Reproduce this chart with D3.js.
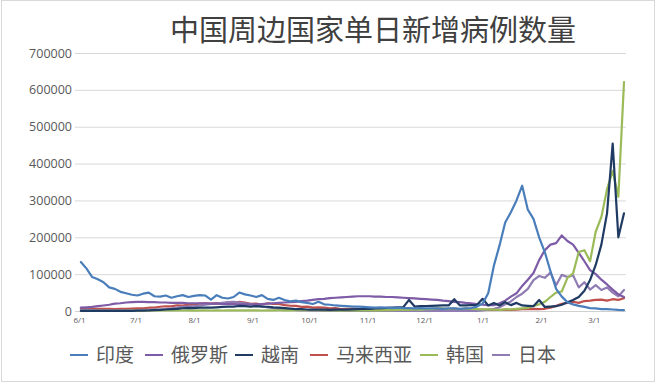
<!DOCTYPE html>
<html><head><meta charset="utf-8">
<script src="https://cdn.jsdelivr.net/npm/d3@7"></script>
<style>
html,body{margin:0;padding:0;background:#fff;}
svg{display:block;}
</style></head>
<body>
<svg id="chart" width="660" height="382"></svg>
<script>
// ---- data (sampled every 3 days from 2021-06-02 to 2022-03-17) ----
const startDate = new Date(2021, 5, 2);
const stepDays = 3;
const tickLabels = ["6/1","7/1","8/1","9/1","10/1","11/1","12/1","1/1","2/1","3/1"];
const tickDates = [[2021,5,1],[2021,6,1],[2021,7,1],[2021,8,1],[2021,9,1],[2021,10,1],[2021,11,1],[2022,0,1],[2022,1,1],[2022,2,1]];
const yTicks = [0,100000,200000,300000,400000,500000,600000,700000];
const seriesNames = ["印度","俄罗斯","越南","马来西亚","韩国","日本"];

const india = [133000,115000,92000,86000,78000,64000,60000,52000,48000,44000,
42000,47000,50000,40000,39000,42000,36000,40000,43000,38000,
41000,43000,42000,31000,43000,36000,34000,38000,50000,45000,
42000,38000,43000,33000,30000,36000,30000,26000,28000,24000,
22000,19000,25000,18000,17000,15000,14000,13000,12000,12000,
11000,10000,9000,10000,9000,8000,9000,8000,8000,7000,
8000,7000,7000,7000,6000,7000,7000,6000,7000,8000,
12000,20000,48000,123000,178000,240000,268000,300000,340000,275000,
250000,200000,160000,108000,60000,39000,24000,18000,14000,11000,
8000,7000,5000,5000,4000,3000,2500];

const russia = [9000,10000,11000,13000,15000,17000,20000,21000,23000,24000,
25000,25000,24000,24000,23000,23000,22000,22000,22000,21000,
21000,21000,21000,20000,20000,19000,19000,18000,18000,18000,
18000,18000,19000,20000,21000,22000,23000,24000,25000,27000,
28000,30000,32000,33000,35000,36000,37000,38000,39000,40000,
40000,40000,39000,39000,38000,38000,37000,36000,35000,34000,
33000,32000,31000,30000,28000,27000,25000,24000,22000,21000,
19000,17000,16000,16000,21000,28000,39000,48000,68000,85000,
103000,138000,165000,180000,184000,205000,190000,180000,158000,135000,
111000,100000,85000,72000,58000,45000,38000];

const vietnam = [200,300,300,400,300,300,300,400,500,600,
900,1200,1500,2300,3000,4000,5000,6000,7500,8500,
8000,9000,9500,9000,10000,11000,12000,11500,14000,13000,
12000,13000,12000,11500,10000,9000,8000,6500,5000,5000,
4000,3500,3500,3500,3000,3500,3500,4000,4500,5000,
5500,6000,7000,8000,8500,9500,10000,10500,30000,12000,
13000,13500,14000,14500,15000,15000,32000,15000,15500,16000,
16000,33000,15000,22000,15000,24000,16000,22000,15000,14000,
13000,30000,11000,12000,13000,17000,24000,30000,38000,55000,
84000,125000,180000,265000,454000,200000,265000];

const malaysia = [7500,7000,6000,6000,5500,5500,5300,5600,6000,6400,
6900,7000,8900,9100,11600,12900,12400,15500,14500,17400,
17800,19800,20900,20000,21400,19900,22900,21200,24600,22600,
19300,20400,17000,21000,19500,19200,15700,14300,14100,11300,
11900,9000,9900,9400,7300,7900,5400,6100,5800,5400,
5300,5200,6600,4900,6100,6000,6300,5800,4800,5400,
4300,5400,4300,4800,4500,3500,3800,3100,3300,2900,
3600,3400,2900,3400,2700,3700,3000,3900,5000,5200,
5500,5300,6000,9100,14000,19700,22000,25000,22000,27000,
28000,30000,31000,28000,32000,30000,35000];

const korea = [600,700,500,550,450,500,400,600,650,800,
800,700,1200,1300,1600,1500,1300,1600,1300,1700,
1200,1700,1700,1400,1900,1400,2100,1600,1800,1800,
2000,1700,1400,2000,1800,2000,1900,1800,2400,2700,
2500,2100,2000,1500,1300,1900,1000,1400,1400,1200,
2000,1600,2300,1800,2500,2400,3200,3100,2700,4000,
3300,5100,5100,7100,6900,5500,7400,5200,6900,5400,
5000,4400,4400,4000,3000,4500,4200,5800,7000,8500,
14000,18000,25000,38000,50000,53000,90000,102000,160000,165000,
135000,215000,255000,330000,380000,310000,621000];

const japan = [2500,2800,2500,2000,1800,1800,1500,1600,1800,2000,
2500,3000,3200,3500,4000,5000,6500,9000,11000,12000,
13000,15000,17000,19000,20000,22000,24000,25000,23000,21000,
19000,16000,13000,10000,8000,6000,4500,3500,2500,1800,
1400,1000,700,500,400,300,300,250,200,200,
200,150,150,150,150,200,150,150,150,150,
150,150,150,200,200,200,250,300,300,400,
500,1500,3500,6000,10000,18000,26000,38000,47000,60000,
84000,95000,90000,104000,70000,98000,92000,97000,64000,78000,
58000,70000,57000,64000,50000,40000,57000];

const seriesValues = [india, russia, vietnam, malaysia, korea, japan];
const seriesColors = ["#4a7ebb","#7d5ba6","#1f3a63","#c0504d","#9bbb59","#8f7cb3"];

// ---- chart ----
const svg = d3.select("#chart");
const W = 660, H = 382;
const dates = india.map((_, i) => d3.timeDay.offset(startDate, i * stepDays));

const x = d3.scaleTime()
  .domain([new Date(2021, 5, 1), new Date(2022, 2, 17)])
  .range([79, 624]);
const y = d3.scaleLinear().domain([0, 700000]).range([311, 53]);

// chart border
svg.append("rect").attr("x", 1.5).attr("y", 0.5).attr("width", W - 7).attr("height", H - 1)
  .attr("fill", "#fff").attr("stroke", "#d9d9d9");

// title
svg.append("text").attr("x", 373).attr("y", 41).attr("text-anchor", "middle")
  .attr("font-family", "'Noto Sans CJK SC', sans-serif").attr("font-size", 29)
  .attr("fill", "#404040").text("中国周边国家单日新增病例数量");

// gridlines
svg.append("g").selectAll("line").data(yTicks.filter(d => d > 0)).join("line")
  .attr("x1", 75).attr("x2", 626)
  .attr("y1", d => y(d) + 0.5).attr("y2", d => y(d) + 0.5)
  .attr("stroke", "#d9d9d9").attr("stroke-width", 1);

// y axis labels
const yAxis = d3.axisLeft(y).tickValues(yTicks).tickSize(0).tickPadding(0).tickFormat(d3.format("d"));
const gy = svg.append("g").attr("transform", "translate(72,0)").call(yAxis);
gy.select(".domain").remove();
gy.selectAll("text").attr("font-family", "'Open Sans', sans-serif").attr("font-size", 12.5)
  .attr("fill", "#595959");

// x axis
const xAxis = d3.axisBottom(x)
  .tickValues(tickDates.map(t => new Date(t[0], t[1], t[2])))
  .tickFormat((d, i) => tickLabels[i]).tickSize(0).tickPadding(6);
const gx = svg.append("g").attr("transform", "translate(0,311.5)").call(xAxis);
gx.select(".domain").attr("d", "M75,0H626").attr("stroke", "#d0d0d0");
gx.selectAll("text").attr("font-family", "'Open Sans', sans-serif").attr("font-size", 8)
  .attr("fill", "#595959");

// lines
const line = d3.line().x((d, i) => x(dates[i])).y(d => y(d)).curve(d3.curveLinear);
const drawOrder = [3, 5, 1, 4, 2, 0];
svg.append("g").selectAll("path").data(drawOrder).join("path")
  .attr("d", k => line(seriesValues[k]))
  .attr("fill", "none").attr("stroke", k => seriesColors[k])
  .attr("stroke-width", 2.2).attr("stroke-linejoin", "round").attr("stroke-linecap", "round");

// legend
const legendX = [70, 145, 235, 310, 420, 492];
const lg = svg.append("g").attr("transform", "translate(0,355)");
const items = lg.selectAll("g").data(seriesNames).join("g")
  .attr("transform", (d, i) => `translate(${legendX[i]},0)`);
items.append("line").attr("x1", 0).attr("x2", 18).attr("y1", 0).attr("y2", 0)
  .attr("stroke", (d, i) => seriesColors[i]).attr("stroke-width", 2);
items.append("text").attr("x", 26).attr("y", 7)
  .attr("font-family", "'Noto Sans CJK SC', sans-serif").attr("font-size", 19)
  .attr("fill", "#595959").text(d => d);
</script>
</body></html>
